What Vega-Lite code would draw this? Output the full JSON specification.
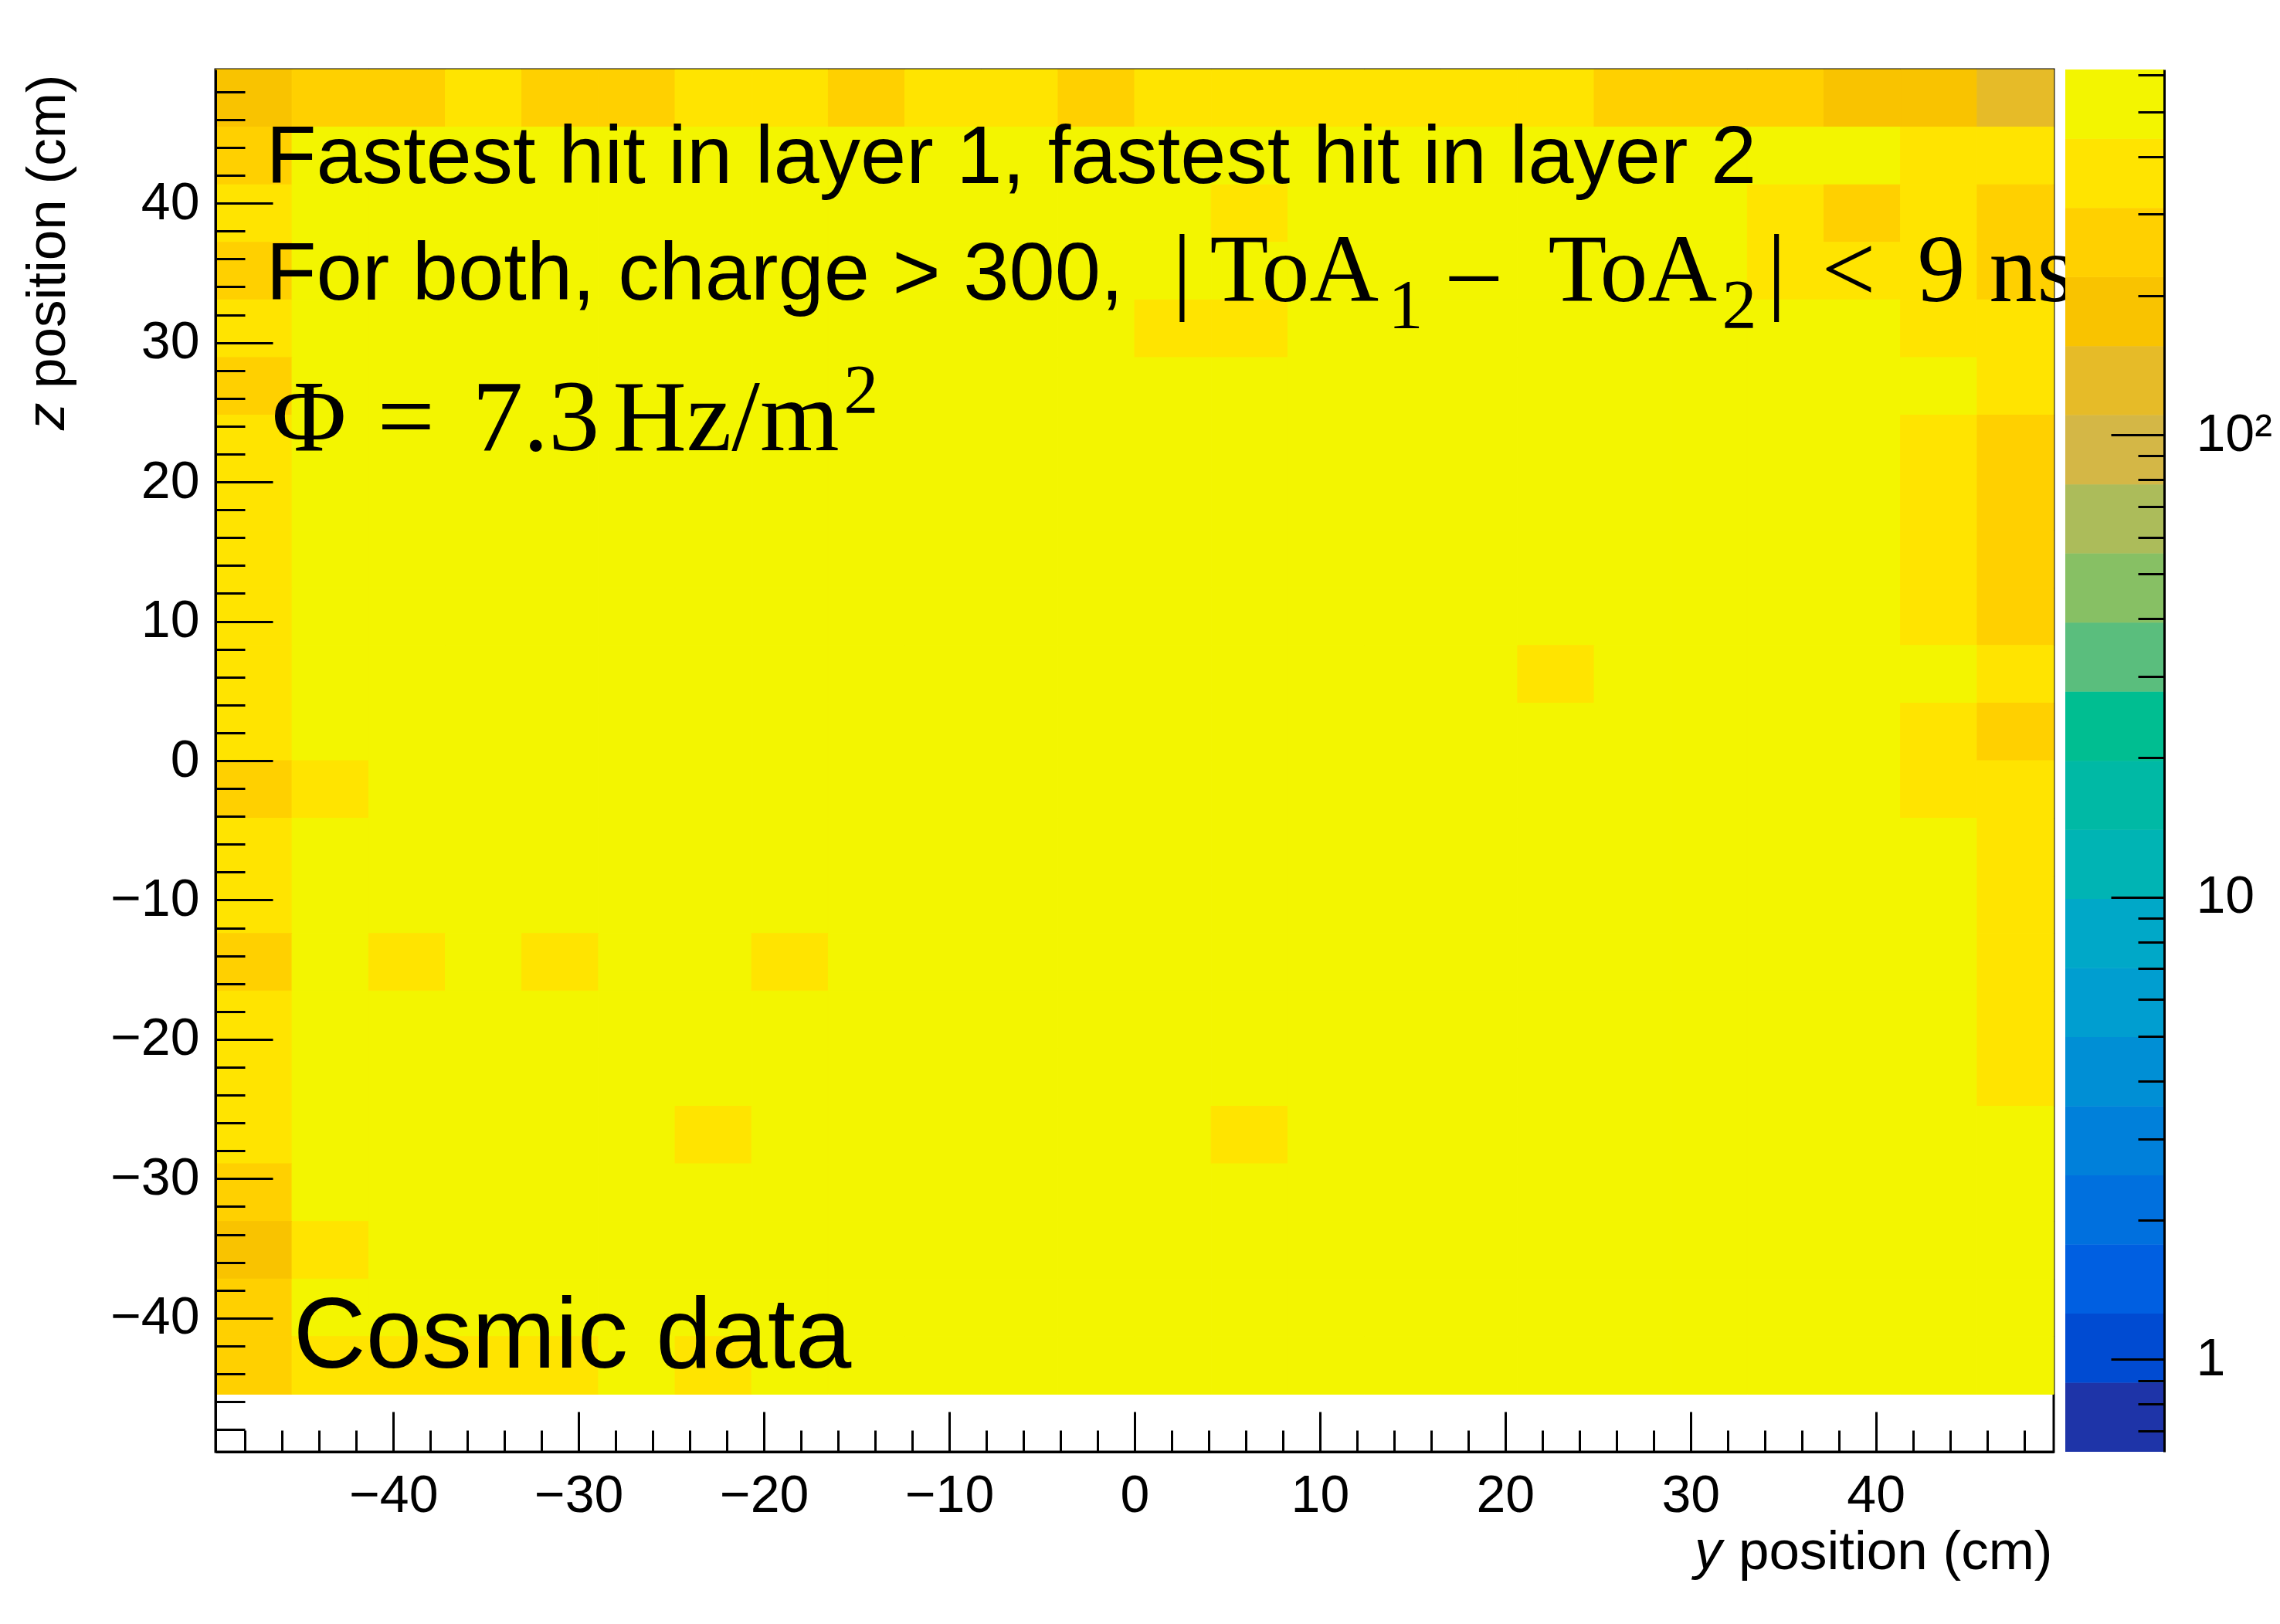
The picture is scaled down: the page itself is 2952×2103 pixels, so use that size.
{
"$schema":"https://vega.github.io/schema/vega-lite/v6.json",
"background":"white",
"padding":{"left":24,"top":88,"right":0,"bottom":0},
"bounds":"flush",
"spacing":15,
"datasets":{
"cells":[
{"y1":-49.6,"y2":-45.47,"z1":45.47,"z2":49.6,"n":185},{"y1":-45.47,"y2":-41.33,"z1":45.47,"z2":49.6,"n":260},{"y1":-41.33,"y2":-37.2,"z1":45.47,"z2":49.6,"n":260},{"y1":-37.2,"y2":-33.07,"z1":45.47,"z2":49.6,"n":370},{"y1":-33.07,"y2":-28.93,"z1":45.47,"z2":49.6,"n":260},{"y1":-28.93,"y2":-24.8,"z1":45.47,"z2":49.6,"n":260},{"y1":-24.8,"y2":-20.67,"z1":45.47,"z2":49.6,"n":370},{"y1":-20.67,"y2":-16.53,"z1":45.47,"z2":49.6,"n":370},{"y1":-16.53,"y2":-12.4,"z1":45.47,"z2":49.6,"n":260},{"y1":-12.4,"y2":-8.27,"z1":45.47,"z2":49.6,"n":370},{"y1":-8.27,"y2":-4.13,"z1":45.47,"z2":49.6,"n":370},{"y1":-4.13,"y2":0,"z1":45.47,"z2":49.6,"n":260},{"y1":0,"y2":4.13,"z1":45.47,"z2":49.6,"n":370},{"y1":4.13,"y2":8.27,"z1":45.47,"z2":49.6,"n":370},{"y1":8.27,"y2":12.4,"z1":45.47,"z2":49.6,"n":370},{"y1":12.4,"y2":16.53,"z1":45.47,"z2":49.6,"n":370},{"y1":16.53,"y2":20.67,"z1":45.47,"z2":49.6,"n":370},{"y1":20.67,"y2":24.8,"z1":45.47,"z2":49.6,"n":370},{"y1":24.8,"y2":28.93,"z1":45.47,"z2":49.6,"n":260},{"y1":28.93,"y2":33.07,"z1":45.47,"z2":49.6,"n":260},{"y1":33.07,"y2":37.2,"z1":45.47,"z2":49.6,"n":260},{"y1":37.2,"y2":41.33,"z1":45.47,"z2":49.6,"n":185},{"y1":41.33,"y2":45.47,"z1":45.47,"z2":49.6,"n":185},{"y1":45.47,"y2":49.6,"z1":45.47,"z2":49.6,"n":131},
{"y1":-49.6,"y2":-45.47,"z1":41.33,"z2":45.47,"n":260},{"y1":-45.47,"y2":-41.33,"z1":41.33,"z2":45.47,"n":520},{"y1":-41.33,"y2":-37.2,"z1":41.33,"z2":45.47,"n":520},{"y1":-37.2,"y2":-33.07,"z1":41.33,"z2":45.47,"n":520},{"y1":-33.07,"y2":-28.93,"z1":41.33,"z2":45.47,"n":520},{"y1":-28.93,"y2":-24.8,"z1":41.33,"z2":45.47,"n":520},{"y1":-24.8,"y2":-20.67,"z1":41.33,"z2":45.47,"n":520},{"y1":-20.67,"y2":-16.53,"z1":41.33,"z2":45.47,"n":520},{"y1":-16.53,"y2":-12.4,"z1":41.33,"z2":45.47,"n":520},{"y1":-12.4,"y2":-8.27,"z1":41.33,"z2":45.47,"n":520},{"y1":-8.27,"y2":-4.13,"z1":41.33,"z2":45.47,"n":520},{"y1":-4.13,"y2":0,"z1":41.33,"z2":45.47,"n":520},{"y1":0,"y2":4.13,"z1":41.33,"z2":45.47,"n":520},{"y1":4.13,"y2":8.27,"z1":41.33,"z2":45.47,"n":520},{"y1":8.27,"y2":12.4,"z1":41.33,"z2":45.47,"n":520},{"y1":12.4,"y2":16.53,"z1":41.33,"z2":45.47,"n":520},{"y1":16.53,"y2":20.67,"z1":41.33,"z2":45.47,"n":520},{"y1":20.67,"y2":24.8,"z1":41.33,"z2":45.47,"n":520},{"y1":24.8,"y2":28.93,"z1":41.33,"z2":45.47,"n":520},{"y1":28.93,"y2":33.07,"z1":41.33,"z2":45.47,"n":520},{"y1":33.07,"y2":37.2,"z1":41.33,"z2":45.47,"n":520},{"y1":37.2,"y2":41.33,"z1":41.33,"z2":45.47,"n":520},{"y1":41.33,"y2":45.47,"z1":41.33,"z2":45.47,"n":370},{"y1":45.47,"y2":49.6,"z1":41.33,"z2":45.47,"n":370},
{"y1":-49.6,"y2":-45.47,"z1":37.2,"z2":41.33,"n":370},{"y1":-45.47,"y2":-41.33,"z1":37.2,"z2":41.33,"n":520},{"y1":-41.33,"y2":-37.2,"z1":37.2,"z2":41.33,"n":520},{"y1":-37.2,"y2":-33.07,"z1":37.2,"z2":41.33,"n":520},{"y1":-33.07,"y2":-28.93,"z1":37.2,"z2":41.33,"n":520},{"y1":-28.93,"y2":-24.8,"z1":37.2,"z2":41.33,"n":520},{"y1":-24.8,"y2":-20.67,"z1":37.2,"z2":41.33,"n":520},{"y1":-20.67,"y2":-16.53,"z1":37.2,"z2":41.33,"n":520},{"y1":-16.53,"y2":-12.4,"z1":37.2,"z2":41.33,"n":520},{"y1":-12.4,"y2":-8.27,"z1":37.2,"z2":41.33,"n":520},{"y1":-8.27,"y2":-4.13,"z1":37.2,"z2":41.33,"n":520},{"y1":-4.13,"y2":0,"z1":37.2,"z2":41.33,"n":520},{"y1":0,"y2":4.13,"z1":37.2,"z2":41.33,"n":520},{"y1":4.13,"y2":8.27,"z1":37.2,"z2":41.33,"n":370},{"y1":8.27,"y2":12.4,"z1":37.2,"z2":41.33,"n":520},{"y1":12.4,"y2":16.53,"z1":37.2,"z2":41.33,"n":520},{"y1":16.53,"y2":20.67,"z1":37.2,"z2":41.33,"n":520},{"y1":20.67,"y2":24.8,"z1":37.2,"z2":41.33,"n":520},{"y1":24.8,"y2":28.93,"z1":37.2,"z2":41.33,"n":520},{"y1":28.93,"y2":33.07,"z1":37.2,"z2":41.33,"n":520},{"y1":33.07,"y2":37.2,"z1":37.2,"z2":41.33,"n":370},{"y1":37.2,"y2":41.33,"z1":37.2,"z2":41.33,"n":260},{"y1":41.33,"y2":45.47,"z1":37.2,"z2":41.33,"n":370},{"y1":45.47,"y2":49.6,"z1":37.2,"z2":41.33,"n":260},
{"y1":-49.6,"y2":-45.47,"z1":33.07,"z2":37.2,"n":260},{"y1":-45.47,"y2":-41.33,"z1":33.07,"z2":37.2,"n":520},{"y1":-41.33,"y2":-37.2,"z1":33.07,"z2":37.2,"n":520},{"y1":-37.2,"y2":-33.07,"z1":33.07,"z2":37.2,"n":520},{"y1":-33.07,"y2":-28.93,"z1":33.07,"z2":37.2,"n":520},{"y1":-28.93,"y2":-24.8,"z1":33.07,"z2":37.2,"n":520},{"y1":-24.8,"y2":-20.67,"z1":33.07,"z2":37.2,"n":520},{"y1":-20.67,"y2":-16.53,"z1":33.07,"z2":37.2,"n":520},{"y1":-16.53,"y2":-12.4,"z1":33.07,"z2":37.2,"n":520},{"y1":-12.4,"y2":-8.27,"z1":33.07,"z2":37.2,"n":520},{"y1":-8.27,"y2":-4.13,"z1":33.07,"z2":37.2,"n":520},{"y1":-4.13,"y2":0,"z1":33.07,"z2":37.2,"n":520},{"y1":0,"y2":4.13,"z1":33.07,"z2":37.2,"n":520},{"y1":4.13,"y2":8.27,"z1":33.07,"z2":37.2,"n":520},{"y1":8.27,"y2":12.4,"z1":33.07,"z2":37.2,"n":520},{"y1":12.4,"y2":16.53,"z1":33.07,"z2":37.2,"n":520},{"y1":16.53,"y2":20.67,"z1":33.07,"z2":37.2,"n":520},{"y1":20.67,"y2":24.8,"z1":33.07,"z2":37.2,"n":520},{"y1":24.8,"y2":28.93,"z1":33.07,"z2":37.2,"n":520},{"y1":28.93,"y2":33.07,"z1":33.07,"z2":37.2,"n":520},{"y1":33.07,"y2":37.2,"z1":33.07,"z2":37.2,"n":370},{"y1":37.2,"y2":41.33,"z1":33.07,"z2":37.2,"n":370},{"y1":41.33,"y2":45.47,"z1":33.07,"z2":37.2,"n":370},{"y1":45.47,"y2":49.6,"z1":33.07,"z2":37.2,"n":260},
{"y1":-49.6,"y2":-45.47,"z1":28.93,"z2":33.07,"n":370},{"y1":-45.47,"y2":-41.33,"z1":28.93,"z2":33.07,"n":520},{"y1":-41.33,"y2":-37.2,"z1":28.93,"z2":33.07,"n":520},{"y1":-37.2,"y2":-33.07,"z1":28.93,"z2":33.07,"n":520},{"y1":-33.07,"y2":-28.93,"z1":28.93,"z2":33.07,"n":520},{"y1":-28.93,"y2":-24.8,"z1":28.93,"z2":33.07,"n":520},{"y1":-24.8,"y2":-20.67,"z1":28.93,"z2":33.07,"n":520},{"y1":-20.67,"y2":-16.53,"z1":28.93,"z2":33.07,"n":520},{"y1":-16.53,"y2":-12.4,"z1":28.93,"z2":33.07,"n":520},{"y1":-12.4,"y2":-8.27,"z1":28.93,"z2":33.07,"n":520},{"y1":-8.27,"y2":-4.13,"z1":28.93,"z2":33.07,"n":520},{"y1":-4.13,"y2":0,"z1":28.93,"z2":33.07,"n":520},{"y1":0,"y2":4.13,"z1":28.93,"z2":33.07,"n":370},{"y1":4.13,"y2":8.27,"z1":28.93,"z2":33.07,"n":370},{"y1":8.27,"y2":12.4,"z1":28.93,"z2":33.07,"n":520},{"y1":12.4,"y2":16.53,"z1":28.93,"z2":33.07,"n":520},{"y1":16.53,"y2":20.67,"z1":28.93,"z2":33.07,"n":520},{"y1":20.67,"y2":24.8,"z1":28.93,"z2":33.07,"n":520},{"y1":24.8,"y2":28.93,"z1":28.93,"z2":33.07,"n":520},{"y1":28.93,"y2":33.07,"z1":28.93,"z2":33.07,"n":520},{"y1":33.07,"y2":37.2,"z1":28.93,"z2":33.07,"n":520},{"y1":37.2,"y2":41.33,"z1":28.93,"z2":33.07,"n":520},{"y1":41.33,"y2":45.47,"z1":28.93,"z2":33.07,"n":370},{"y1":45.47,"y2":49.6,"z1":28.93,"z2":33.07,"n":370},
{"y1":-49.6,"y2":-45.47,"z1":24.8,"z2":28.93,"n":260},{"y1":-45.47,"y2":-41.33,"z1":24.8,"z2":28.93,"n":520},{"y1":-41.33,"y2":-37.2,"z1":24.8,"z2":28.93,"n":520},{"y1":-37.2,"y2":-33.07,"z1":24.8,"z2":28.93,"n":520},{"y1":-33.07,"y2":-28.93,"z1":24.8,"z2":28.93,"n":520},{"y1":-28.93,"y2":-24.8,"z1":24.8,"z2":28.93,"n":520},{"y1":-24.8,"y2":-20.67,"z1":24.8,"z2":28.93,"n":520},{"y1":-20.67,"y2":-16.53,"z1":24.8,"z2":28.93,"n":520},{"y1":-16.53,"y2":-12.4,"z1":24.8,"z2":28.93,"n":520},{"y1":-12.4,"y2":-8.27,"z1":24.8,"z2":28.93,"n":520},{"y1":-8.27,"y2":-4.13,"z1":24.8,"z2":28.93,"n":520},{"y1":-4.13,"y2":0,"z1":24.8,"z2":28.93,"n":520},{"y1":0,"y2":4.13,"z1":24.8,"z2":28.93,"n":520},{"y1":4.13,"y2":8.27,"z1":24.8,"z2":28.93,"n":520},{"y1":8.27,"y2":12.4,"z1":24.8,"z2":28.93,"n":520},{"y1":12.4,"y2":16.53,"z1":24.8,"z2":28.93,"n":520},{"y1":16.53,"y2":20.67,"z1":24.8,"z2":28.93,"n":520},{"y1":20.67,"y2":24.8,"z1":24.8,"z2":28.93,"n":520},{"y1":24.8,"y2":28.93,"z1":24.8,"z2":28.93,"n":520},{"y1":28.93,"y2":33.07,"z1":24.8,"z2":28.93,"n":520},{"y1":33.07,"y2":37.2,"z1":24.8,"z2":28.93,"n":520},{"y1":37.2,"y2":41.33,"z1":24.8,"z2":28.93,"n":520},{"y1":41.33,"y2":45.47,"z1":24.8,"z2":28.93,"n":520},{"y1":45.47,"y2":49.6,"z1":24.8,"z2":28.93,"n":370},
{"y1":-49.6,"y2":-45.47,"z1":20.67,"z2":24.8,"n":370},{"y1":-45.47,"y2":-41.33,"z1":20.67,"z2":24.8,"n":520},{"y1":-41.33,"y2":-37.2,"z1":20.67,"z2":24.8,"n":520},{"y1":-37.2,"y2":-33.07,"z1":20.67,"z2":24.8,"n":520},{"y1":-33.07,"y2":-28.93,"z1":20.67,"z2":24.8,"n":520},{"y1":-28.93,"y2":-24.8,"z1":20.67,"z2":24.8,"n":520},{"y1":-24.8,"y2":-20.67,"z1":20.67,"z2":24.8,"n":520},{"y1":-20.67,"y2":-16.53,"z1":20.67,"z2":24.8,"n":520},{"y1":-16.53,"y2":-12.4,"z1":20.67,"z2":24.8,"n":520},{"y1":-12.4,"y2":-8.27,"z1":20.67,"z2":24.8,"n":520},{"y1":-8.27,"y2":-4.13,"z1":20.67,"z2":24.8,"n":520},{"y1":-4.13,"y2":0,"z1":20.67,"z2":24.8,"n":520},{"y1":0,"y2":4.13,"z1":20.67,"z2":24.8,"n":520},{"y1":4.13,"y2":8.27,"z1":20.67,"z2":24.8,"n":520},{"y1":8.27,"y2":12.4,"z1":20.67,"z2":24.8,"n":520},{"y1":12.4,"y2":16.53,"z1":20.67,"z2":24.8,"n":520},{"y1":16.53,"y2":20.67,"z1":20.67,"z2":24.8,"n":520},{"y1":20.67,"y2":24.8,"z1":20.67,"z2":24.8,"n":520},{"y1":24.8,"y2":28.93,"z1":20.67,"z2":24.8,"n":520},{"y1":28.93,"y2":33.07,"z1":20.67,"z2":24.8,"n":520},{"y1":33.07,"y2":37.2,"z1":20.67,"z2":24.8,"n":520},{"y1":37.2,"y2":41.33,"z1":20.67,"z2":24.8,"n":520},{"y1":41.33,"y2":45.47,"z1":20.67,"z2":24.8,"n":370},{"y1":45.47,"y2":49.6,"z1":20.67,"z2":24.8,"n":260},
{"y1":-49.6,"y2":-45.47,"z1":16.53,"z2":20.67,"n":370},{"y1":-45.47,"y2":-41.33,"z1":16.53,"z2":20.67,"n":520},{"y1":-41.33,"y2":-37.2,"z1":16.53,"z2":20.67,"n":520},{"y1":-37.2,"y2":-33.07,"z1":16.53,"z2":20.67,"n":520},{"y1":-33.07,"y2":-28.93,"z1":16.53,"z2":20.67,"n":520},{"y1":-28.93,"y2":-24.8,"z1":16.53,"z2":20.67,"n":520},{"y1":-24.8,"y2":-20.67,"z1":16.53,"z2":20.67,"n":520},{"y1":-20.67,"y2":-16.53,"z1":16.53,"z2":20.67,"n":520},{"y1":-16.53,"y2":-12.4,"z1":16.53,"z2":20.67,"n":520},{"y1":-12.4,"y2":-8.27,"z1":16.53,"z2":20.67,"n":520},{"y1":-8.27,"y2":-4.13,"z1":16.53,"z2":20.67,"n":520},{"y1":-4.13,"y2":0,"z1":16.53,"z2":20.67,"n":520},{"y1":0,"y2":4.13,"z1":16.53,"z2":20.67,"n":520},{"y1":4.13,"y2":8.27,"z1":16.53,"z2":20.67,"n":520},{"y1":8.27,"y2":12.4,"z1":16.53,"z2":20.67,"n":520},{"y1":12.4,"y2":16.53,"z1":16.53,"z2":20.67,"n":520},{"y1":16.53,"y2":20.67,"z1":16.53,"z2":20.67,"n":520},{"y1":20.67,"y2":24.8,"z1":16.53,"z2":20.67,"n":520},{"y1":24.8,"y2":28.93,"z1":16.53,"z2":20.67,"n":520},{"y1":28.93,"y2":33.07,"z1":16.53,"z2":20.67,"n":520},{"y1":33.07,"y2":37.2,"z1":16.53,"z2":20.67,"n":520},{"y1":37.2,"y2":41.33,"z1":16.53,"z2":20.67,"n":520},{"y1":41.33,"y2":45.47,"z1":16.53,"z2":20.67,"n":370},{"y1":45.47,"y2":49.6,"z1":16.53,"z2":20.67,"n":260},
{"y1":-49.6,"y2":-45.47,"z1":12.4,"z2":16.53,"n":370},{"y1":-45.47,"y2":-41.33,"z1":12.4,"z2":16.53,"n":520},{"y1":-41.33,"y2":-37.2,"z1":12.4,"z2":16.53,"n":520},{"y1":-37.2,"y2":-33.07,"z1":12.4,"z2":16.53,"n":520},{"y1":-33.07,"y2":-28.93,"z1":12.4,"z2":16.53,"n":520},{"y1":-28.93,"y2":-24.8,"z1":12.4,"z2":16.53,"n":520},{"y1":-24.8,"y2":-20.67,"z1":12.4,"z2":16.53,"n":520},{"y1":-20.67,"y2":-16.53,"z1":12.4,"z2":16.53,"n":520},{"y1":-16.53,"y2":-12.4,"z1":12.4,"z2":16.53,"n":520},{"y1":-12.4,"y2":-8.27,"z1":12.4,"z2":16.53,"n":520},{"y1":-8.27,"y2":-4.13,"z1":12.4,"z2":16.53,"n":520},{"y1":-4.13,"y2":0,"z1":12.4,"z2":16.53,"n":520},{"y1":0,"y2":4.13,"z1":12.4,"z2":16.53,"n":520},{"y1":4.13,"y2":8.27,"z1":12.4,"z2":16.53,"n":520},{"y1":8.27,"y2":12.4,"z1":12.4,"z2":16.53,"n":520},{"y1":12.4,"y2":16.53,"z1":12.4,"z2":16.53,"n":520},{"y1":16.53,"y2":20.67,"z1":12.4,"z2":16.53,"n":520},{"y1":20.67,"y2":24.8,"z1":12.4,"z2":16.53,"n":520},{"y1":24.8,"y2":28.93,"z1":12.4,"z2":16.53,"n":520},{"y1":28.93,"y2":33.07,"z1":12.4,"z2":16.53,"n":520},{"y1":33.07,"y2":37.2,"z1":12.4,"z2":16.53,"n":520},{"y1":37.2,"y2":41.33,"z1":12.4,"z2":16.53,"n":520},{"y1":41.33,"y2":45.47,"z1":12.4,"z2":16.53,"n":370},{"y1":45.47,"y2":49.6,"z1":12.4,"z2":16.53,"n":260},
{"y1":-49.6,"y2":-45.47,"z1":8.27,"z2":12.4,"n":370},{"y1":-45.47,"y2":-41.33,"z1":8.27,"z2":12.4,"n":520},{"y1":-41.33,"y2":-37.2,"z1":8.27,"z2":12.4,"n":520},{"y1":-37.2,"y2":-33.07,"z1":8.27,"z2":12.4,"n":520},{"y1":-33.07,"y2":-28.93,"z1":8.27,"z2":12.4,"n":520},{"y1":-28.93,"y2":-24.8,"z1":8.27,"z2":12.4,"n":520},{"y1":-24.8,"y2":-20.67,"z1":8.27,"z2":12.4,"n":520},{"y1":-20.67,"y2":-16.53,"z1":8.27,"z2":12.4,"n":520},{"y1":-16.53,"y2":-12.4,"z1":8.27,"z2":12.4,"n":520},{"y1":-12.4,"y2":-8.27,"z1":8.27,"z2":12.4,"n":520},{"y1":-8.27,"y2":-4.13,"z1":8.27,"z2":12.4,"n":520},{"y1":-4.13,"y2":0,"z1":8.27,"z2":12.4,"n":520},{"y1":0,"y2":4.13,"z1":8.27,"z2":12.4,"n":520},{"y1":4.13,"y2":8.27,"z1":8.27,"z2":12.4,"n":520},{"y1":8.27,"y2":12.4,"z1":8.27,"z2":12.4,"n":520},{"y1":12.4,"y2":16.53,"z1":8.27,"z2":12.4,"n":520},{"y1":16.53,"y2":20.67,"z1":8.27,"z2":12.4,"n":520},{"y1":20.67,"y2":24.8,"z1":8.27,"z2":12.4,"n":520},{"y1":24.8,"y2":28.93,"z1":8.27,"z2":12.4,"n":520},{"y1":28.93,"y2":33.07,"z1":8.27,"z2":12.4,"n":520},{"y1":33.07,"y2":37.2,"z1":8.27,"z2":12.4,"n":520},{"y1":37.2,"y2":41.33,"z1":8.27,"z2":12.4,"n":520},{"y1":41.33,"y2":45.47,"z1":8.27,"z2":12.4,"n":370},{"y1":45.47,"y2":49.6,"z1":8.27,"z2":12.4,"n":260},
{"y1":-49.6,"y2":-45.47,"z1":4.13,"z2":8.27,"n":370},{"y1":-45.47,"y2":-41.33,"z1":4.13,"z2":8.27,"n":520},{"y1":-41.33,"y2":-37.2,"z1":4.13,"z2":8.27,"n":520},{"y1":-37.2,"y2":-33.07,"z1":4.13,"z2":8.27,"n":520},{"y1":-33.07,"y2":-28.93,"z1":4.13,"z2":8.27,"n":520},{"y1":-28.93,"y2":-24.8,"z1":4.13,"z2":8.27,"n":520},{"y1":-24.8,"y2":-20.67,"z1":4.13,"z2":8.27,"n":520},{"y1":-20.67,"y2":-16.53,"z1":4.13,"z2":8.27,"n":520},{"y1":-16.53,"y2":-12.4,"z1":4.13,"z2":8.27,"n":520},{"y1":-12.4,"y2":-8.27,"z1":4.13,"z2":8.27,"n":520},{"y1":-8.27,"y2":-4.13,"z1":4.13,"z2":8.27,"n":520},{"y1":-4.13,"y2":0,"z1":4.13,"z2":8.27,"n":520},{"y1":0,"y2":4.13,"z1":4.13,"z2":8.27,"n":520},{"y1":4.13,"y2":8.27,"z1":4.13,"z2":8.27,"n":520},{"y1":8.27,"y2":12.4,"z1":4.13,"z2":8.27,"n":520},{"y1":12.4,"y2":16.53,"z1":4.13,"z2":8.27,"n":520},{"y1":16.53,"y2":20.67,"z1":4.13,"z2":8.27,"n":520},{"y1":20.67,"y2":24.8,"z1":4.13,"z2":8.27,"n":370},{"y1":24.8,"y2":28.93,"z1":4.13,"z2":8.27,"n":520},{"y1":28.93,"y2":33.07,"z1":4.13,"z2":8.27,"n":520},{"y1":33.07,"y2":37.2,"z1":4.13,"z2":8.27,"n":520},{"y1":37.2,"y2":41.33,"z1":4.13,"z2":8.27,"n":520},{"y1":41.33,"y2":45.47,"z1":4.13,"z2":8.27,"n":520},{"y1":45.47,"y2":49.6,"z1":4.13,"z2":8.27,"n":370},
{"y1":-49.6,"y2":-45.47,"z1":0,"z2":4.13,"n":370},{"y1":-45.47,"y2":-41.33,"z1":0,"z2":4.13,"n":520},{"y1":-41.33,"y2":-37.2,"z1":0,"z2":4.13,"n":520},{"y1":-37.2,"y2":-33.07,"z1":0,"z2":4.13,"n":520},{"y1":-33.07,"y2":-28.93,"z1":0,"z2":4.13,"n":520},{"y1":-28.93,"y2":-24.8,"z1":0,"z2":4.13,"n":520},{"y1":-24.8,"y2":-20.67,"z1":0,"z2":4.13,"n":520},{"y1":-20.67,"y2":-16.53,"z1":0,"z2":4.13,"n":520},{"y1":-16.53,"y2":-12.4,"z1":0,"z2":4.13,"n":520},{"y1":-12.4,"y2":-8.27,"z1":0,"z2":4.13,"n":520},{"y1":-8.27,"y2":-4.13,"z1":0,"z2":4.13,"n":520},{"y1":-4.13,"y2":0,"z1":0,"z2":4.13,"n":520},{"y1":0,"y2":4.13,"z1":0,"z2":4.13,"n":520},{"y1":4.13,"y2":8.27,"z1":0,"z2":4.13,"n":520},{"y1":8.27,"y2":12.4,"z1":0,"z2":4.13,"n":520},{"y1":12.4,"y2":16.53,"z1":0,"z2":4.13,"n":520},{"y1":16.53,"y2":20.67,"z1":0,"z2":4.13,"n":520},{"y1":20.67,"y2":24.8,"z1":0,"z2":4.13,"n":520},{"y1":24.8,"y2":28.93,"z1":0,"z2":4.13,"n":520},{"y1":28.93,"y2":33.07,"z1":0,"z2":4.13,"n":520},{"y1":33.07,"y2":37.2,"z1":0,"z2":4.13,"n":520},{"y1":37.2,"y2":41.33,"z1":0,"z2":4.13,"n":520},{"y1":41.33,"y2":45.47,"z1":0,"z2":4.13,"n":370},{"y1":45.47,"y2":49.6,"z1":0,"z2":4.13,"n":260},
{"y1":-49.6,"y2":-45.47,"z1":-4.13,"z2":0,"n":260},{"y1":-45.47,"y2":-41.33,"z1":-4.13,"z2":0,"n":370},{"y1":-41.33,"y2":-37.2,"z1":-4.13,"z2":0,"n":520},{"y1":-37.2,"y2":-33.07,"z1":-4.13,"z2":0,"n":520},{"y1":-33.07,"y2":-28.93,"z1":-4.13,"z2":0,"n":520},{"y1":-28.93,"y2":-24.8,"z1":-4.13,"z2":0,"n":520},{"y1":-24.8,"y2":-20.67,"z1":-4.13,"z2":0,"n":520},{"y1":-20.67,"y2":-16.53,"z1":-4.13,"z2":0,"n":520},{"y1":-16.53,"y2":-12.4,"z1":-4.13,"z2":0,"n":520},{"y1":-12.4,"y2":-8.27,"z1":-4.13,"z2":0,"n":520},{"y1":-8.27,"y2":-4.13,"z1":-4.13,"z2":0,"n":520},{"y1":-4.13,"y2":0,"z1":-4.13,"z2":0,"n":520},{"y1":0,"y2":4.13,"z1":-4.13,"z2":0,"n":520},{"y1":4.13,"y2":8.27,"z1":-4.13,"z2":0,"n":520},{"y1":8.27,"y2":12.4,"z1":-4.13,"z2":0,"n":520},{"y1":12.4,"y2":16.53,"z1":-4.13,"z2":0,"n":520},{"y1":16.53,"y2":20.67,"z1":-4.13,"z2":0,"n":520},{"y1":20.67,"y2":24.8,"z1":-4.13,"z2":0,"n":520},{"y1":24.8,"y2":28.93,"z1":-4.13,"z2":0,"n":520},{"y1":28.93,"y2":33.07,"z1":-4.13,"z2":0,"n":520},{"y1":33.07,"y2":37.2,"z1":-4.13,"z2":0,"n":520},{"y1":37.2,"y2":41.33,"z1":-4.13,"z2":0,"n":520},{"y1":41.33,"y2":45.47,"z1":-4.13,"z2":0,"n":370},{"y1":45.47,"y2":49.6,"z1":-4.13,"z2":0,"n":370},
{"y1":-49.6,"y2":-45.47,"z1":-8.27,"z2":-4.13,"n":370},{"y1":-45.47,"y2":-41.33,"z1":-8.27,"z2":-4.13,"n":520},{"y1":-41.33,"y2":-37.2,"z1":-8.27,"z2":-4.13,"n":520},{"y1":-37.2,"y2":-33.07,"z1":-8.27,"z2":-4.13,"n":520},{"y1":-33.07,"y2":-28.93,"z1":-8.27,"z2":-4.13,"n":520},{"y1":-28.93,"y2":-24.8,"z1":-8.27,"z2":-4.13,"n":520},{"y1":-24.8,"y2":-20.67,"z1":-8.27,"z2":-4.13,"n":520},{"y1":-20.67,"y2":-16.53,"z1":-8.27,"z2":-4.13,"n":520},{"y1":-16.53,"y2":-12.4,"z1":-8.27,"z2":-4.13,"n":520},{"y1":-12.4,"y2":-8.27,"z1":-8.27,"z2":-4.13,"n":520},{"y1":-8.27,"y2":-4.13,"z1":-8.27,"z2":-4.13,"n":520},{"y1":-4.13,"y2":0,"z1":-8.27,"z2":-4.13,"n":520},{"y1":0,"y2":4.13,"z1":-8.27,"z2":-4.13,"n":520},{"y1":4.13,"y2":8.27,"z1":-8.27,"z2":-4.13,"n":520},{"y1":8.27,"y2":12.4,"z1":-8.27,"z2":-4.13,"n":520},{"y1":12.4,"y2":16.53,"z1":-8.27,"z2":-4.13,"n":520},{"y1":16.53,"y2":20.67,"z1":-8.27,"z2":-4.13,"n":520},{"y1":20.67,"y2":24.8,"z1":-8.27,"z2":-4.13,"n":520},{"y1":24.8,"y2":28.93,"z1":-8.27,"z2":-4.13,"n":520},{"y1":28.93,"y2":33.07,"z1":-8.27,"z2":-4.13,"n":520},{"y1":33.07,"y2":37.2,"z1":-8.27,"z2":-4.13,"n":520},{"y1":37.2,"y2":41.33,"z1":-8.27,"z2":-4.13,"n":520},{"y1":41.33,"y2":45.47,"z1":-8.27,"z2":-4.13,"n":520},{"y1":45.47,"y2":49.6,"z1":-8.27,"z2":-4.13,"n":370},
{"y1":-49.6,"y2":-45.47,"z1":-12.4,"z2":-8.27,"n":370},{"y1":-45.47,"y2":-41.33,"z1":-12.4,"z2":-8.27,"n":520},{"y1":-41.33,"y2":-37.2,"z1":-12.4,"z2":-8.27,"n":520},{"y1":-37.2,"y2":-33.07,"z1":-12.4,"z2":-8.27,"n":520},{"y1":-33.07,"y2":-28.93,"z1":-12.4,"z2":-8.27,"n":520},{"y1":-28.93,"y2":-24.8,"z1":-12.4,"z2":-8.27,"n":520},{"y1":-24.8,"y2":-20.67,"z1":-12.4,"z2":-8.27,"n":520},{"y1":-20.67,"y2":-16.53,"z1":-12.4,"z2":-8.27,"n":520},{"y1":-16.53,"y2":-12.4,"z1":-12.4,"z2":-8.27,"n":520},{"y1":-12.4,"y2":-8.27,"z1":-12.4,"z2":-8.27,"n":520},{"y1":-8.27,"y2":-4.13,"z1":-12.4,"z2":-8.27,"n":520},{"y1":-4.13,"y2":0,"z1":-12.4,"z2":-8.27,"n":520},{"y1":0,"y2":4.13,"z1":-12.4,"z2":-8.27,"n":520},{"y1":4.13,"y2":8.27,"z1":-12.4,"z2":-8.27,"n":520},{"y1":8.27,"y2":12.4,"z1":-12.4,"z2":-8.27,"n":520},{"y1":12.4,"y2":16.53,"z1":-12.4,"z2":-8.27,"n":520},{"y1":16.53,"y2":20.67,"z1":-12.4,"z2":-8.27,"n":520},{"y1":20.67,"y2":24.8,"z1":-12.4,"z2":-8.27,"n":520},{"y1":24.8,"y2":28.93,"z1":-12.4,"z2":-8.27,"n":520},{"y1":28.93,"y2":33.07,"z1":-12.4,"z2":-8.27,"n":520},{"y1":33.07,"y2":37.2,"z1":-12.4,"z2":-8.27,"n":520},{"y1":37.2,"y2":41.33,"z1":-12.4,"z2":-8.27,"n":520},{"y1":41.33,"y2":45.47,"z1":-12.4,"z2":-8.27,"n":520},{"y1":45.47,"y2":49.6,"z1":-12.4,"z2":-8.27,"n":370},
{"y1":-49.6,"y2":-45.47,"z1":-16.53,"z2":-12.4,"n":260},{"y1":-45.47,"y2":-41.33,"z1":-16.53,"z2":-12.4,"n":520},{"y1":-41.33,"y2":-37.2,"z1":-16.53,"z2":-12.4,"n":370},{"y1":-37.2,"y2":-33.07,"z1":-16.53,"z2":-12.4,"n":520},{"y1":-33.07,"y2":-28.93,"z1":-16.53,"z2":-12.4,"n":370},{"y1":-28.93,"y2":-24.8,"z1":-16.53,"z2":-12.4,"n":520},{"y1":-24.8,"y2":-20.67,"z1":-16.53,"z2":-12.4,"n":520},{"y1":-20.67,"y2":-16.53,"z1":-16.53,"z2":-12.4,"n":370},{"y1":-16.53,"y2":-12.4,"z1":-16.53,"z2":-12.4,"n":520},{"y1":-12.4,"y2":-8.27,"z1":-16.53,"z2":-12.4,"n":520},{"y1":-8.27,"y2":-4.13,"z1":-16.53,"z2":-12.4,"n":520},{"y1":-4.13,"y2":0,"z1":-16.53,"z2":-12.4,"n":520},{"y1":0,"y2":4.13,"z1":-16.53,"z2":-12.4,"n":520},{"y1":4.13,"y2":8.27,"z1":-16.53,"z2":-12.4,"n":520},{"y1":8.27,"y2":12.4,"z1":-16.53,"z2":-12.4,"n":520},{"y1":12.4,"y2":16.53,"z1":-16.53,"z2":-12.4,"n":520},{"y1":16.53,"y2":20.67,"z1":-16.53,"z2":-12.4,"n":520},{"y1":20.67,"y2":24.8,"z1":-16.53,"z2":-12.4,"n":520},{"y1":24.8,"y2":28.93,"z1":-16.53,"z2":-12.4,"n":520},{"y1":28.93,"y2":33.07,"z1":-16.53,"z2":-12.4,"n":520},{"y1":33.07,"y2":37.2,"z1":-16.53,"z2":-12.4,"n":520},{"y1":37.2,"y2":41.33,"z1":-16.53,"z2":-12.4,"n":520},{"y1":41.33,"y2":45.47,"z1":-16.53,"z2":-12.4,"n":520},{"y1":45.47,"y2":49.6,"z1":-16.53,"z2":-12.4,"n":370},
{"y1":-49.6,"y2":-45.47,"z1":-20.67,"z2":-16.53,"n":370},{"y1":-45.47,"y2":-41.33,"z1":-20.67,"z2":-16.53,"n":520},{"y1":-41.33,"y2":-37.2,"z1":-20.67,"z2":-16.53,"n":520},{"y1":-37.2,"y2":-33.07,"z1":-20.67,"z2":-16.53,"n":520},{"y1":-33.07,"y2":-28.93,"z1":-20.67,"z2":-16.53,"n":520},{"y1":-28.93,"y2":-24.8,"z1":-20.67,"z2":-16.53,"n":520},{"y1":-24.8,"y2":-20.67,"z1":-20.67,"z2":-16.53,"n":520},{"y1":-20.67,"y2":-16.53,"z1":-20.67,"z2":-16.53,"n":520},{"y1":-16.53,"y2":-12.4,"z1":-20.67,"z2":-16.53,"n":520},{"y1":-12.4,"y2":-8.27,"z1":-20.67,"z2":-16.53,"n":520},{"y1":-8.27,"y2":-4.13,"z1":-20.67,"z2":-16.53,"n":520},{"y1":-4.13,"y2":0,"z1":-20.67,"z2":-16.53,"n":520},{"y1":0,"y2":4.13,"z1":-20.67,"z2":-16.53,"n":520},{"y1":4.13,"y2":8.27,"z1":-20.67,"z2":-16.53,"n":520},{"y1":8.27,"y2":12.4,"z1":-20.67,"z2":-16.53,"n":520},{"y1":12.4,"y2":16.53,"z1":-20.67,"z2":-16.53,"n":520},{"y1":16.53,"y2":20.67,"z1":-20.67,"z2":-16.53,"n":520},{"y1":20.67,"y2":24.8,"z1":-20.67,"z2":-16.53,"n":520},{"y1":24.8,"y2":28.93,"z1":-20.67,"z2":-16.53,"n":520},{"y1":28.93,"y2":33.07,"z1":-20.67,"z2":-16.53,"n":520},{"y1":33.07,"y2":37.2,"z1":-20.67,"z2":-16.53,"n":520},{"y1":37.2,"y2":41.33,"z1":-20.67,"z2":-16.53,"n":520},{"y1":41.33,"y2":45.47,"z1":-20.67,"z2":-16.53,"n":520},{"y1":45.47,"y2":49.6,"z1":-20.67,"z2":-16.53,"n":370},
{"y1":-49.6,"y2":-45.47,"z1":-24.8,"z2":-20.67,"n":370},{"y1":-45.47,"y2":-41.33,"z1":-24.8,"z2":-20.67,"n":520},{"y1":-41.33,"y2":-37.2,"z1":-24.8,"z2":-20.67,"n":520},{"y1":-37.2,"y2":-33.07,"z1":-24.8,"z2":-20.67,"n":520},{"y1":-33.07,"y2":-28.93,"z1":-24.8,"z2":-20.67,"n":520},{"y1":-28.93,"y2":-24.8,"z1":-24.8,"z2":-20.67,"n":520},{"y1":-24.8,"y2":-20.67,"z1":-24.8,"z2":-20.67,"n":520},{"y1":-20.67,"y2":-16.53,"z1":-24.8,"z2":-20.67,"n":520},{"y1":-16.53,"y2":-12.4,"z1":-24.8,"z2":-20.67,"n":520},{"y1":-12.4,"y2":-8.27,"z1":-24.8,"z2":-20.67,"n":520},{"y1":-8.27,"y2":-4.13,"z1":-24.8,"z2":-20.67,"n":520},{"y1":-4.13,"y2":0,"z1":-24.8,"z2":-20.67,"n":520},{"y1":0,"y2":4.13,"z1":-24.8,"z2":-20.67,"n":520},{"y1":4.13,"y2":8.27,"z1":-24.8,"z2":-20.67,"n":520},{"y1":8.27,"y2":12.4,"z1":-24.8,"z2":-20.67,"n":520},{"y1":12.4,"y2":16.53,"z1":-24.8,"z2":-20.67,"n":520},{"y1":16.53,"y2":20.67,"z1":-24.8,"z2":-20.67,"n":520},{"y1":20.67,"y2":24.8,"z1":-24.8,"z2":-20.67,"n":520},{"y1":24.8,"y2":28.93,"z1":-24.8,"z2":-20.67,"n":520},{"y1":28.93,"y2":33.07,"z1":-24.8,"z2":-20.67,"n":520},{"y1":33.07,"y2":37.2,"z1":-24.8,"z2":-20.67,"n":520},{"y1":37.2,"y2":41.33,"z1":-24.8,"z2":-20.67,"n":520},{"y1":41.33,"y2":45.47,"z1":-24.8,"z2":-20.67,"n":520},{"y1":45.47,"y2":49.6,"z1":-24.8,"z2":-20.67,"n":370},
{"y1":-49.6,"y2":-45.47,"z1":-28.93,"z2":-24.8,"n":370},{"y1":-45.47,"y2":-41.33,"z1":-28.93,"z2":-24.8,"n":520},{"y1":-41.33,"y2":-37.2,"z1":-28.93,"z2":-24.8,"n":520},{"y1":-37.2,"y2":-33.07,"z1":-28.93,"z2":-24.8,"n":520},{"y1":-33.07,"y2":-28.93,"z1":-28.93,"z2":-24.8,"n":520},{"y1":-28.93,"y2":-24.8,"z1":-28.93,"z2":-24.8,"n":520},{"y1":-24.8,"y2":-20.67,"z1":-28.93,"z2":-24.8,"n":370},{"y1":-20.67,"y2":-16.53,"z1":-28.93,"z2":-24.8,"n":520},{"y1":-16.53,"y2":-12.4,"z1":-28.93,"z2":-24.8,"n":520},{"y1":-12.4,"y2":-8.27,"z1":-28.93,"z2":-24.8,"n":520},{"y1":-8.27,"y2":-4.13,"z1":-28.93,"z2":-24.8,"n":520},{"y1":-4.13,"y2":0,"z1":-28.93,"z2":-24.8,"n":520},{"y1":0,"y2":4.13,"z1":-28.93,"z2":-24.8,"n":520},{"y1":4.13,"y2":8.27,"z1":-28.93,"z2":-24.8,"n":370},{"y1":8.27,"y2":12.4,"z1":-28.93,"z2":-24.8,"n":520},{"y1":12.4,"y2":16.53,"z1":-28.93,"z2":-24.8,"n":520},{"y1":16.53,"y2":20.67,"z1":-28.93,"z2":-24.8,"n":520},{"y1":20.67,"y2":24.8,"z1":-28.93,"z2":-24.8,"n":520},{"y1":24.8,"y2":28.93,"z1":-28.93,"z2":-24.8,"n":520},{"y1":28.93,"y2":33.07,"z1":-28.93,"z2":-24.8,"n":520},{"y1":33.07,"y2":37.2,"z1":-28.93,"z2":-24.8,"n":520},{"y1":37.2,"y2":41.33,"z1":-28.93,"z2":-24.8,"n":520},{"y1":41.33,"y2":45.47,"z1":-28.93,"z2":-24.8,"n":520},{"y1":45.47,"y2":49.6,"z1":-28.93,"z2":-24.8,"n":520},
{"y1":-49.6,"y2":-45.47,"z1":-33.07,"z2":-28.93,"n":260},{"y1":-45.47,"y2":-41.33,"z1":-33.07,"z2":-28.93,"n":520},{"y1":-41.33,"y2":-37.2,"z1":-33.07,"z2":-28.93,"n":520},{"y1":-37.2,"y2":-33.07,"z1":-33.07,"z2":-28.93,"n":520},{"y1":-33.07,"y2":-28.93,"z1":-33.07,"z2":-28.93,"n":520},{"y1":-28.93,"y2":-24.8,"z1":-33.07,"z2":-28.93,"n":520},{"y1":-24.8,"y2":-20.67,"z1":-33.07,"z2":-28.93,"n":520},{"y1":-20.67,"y2":-16.53,"z1":-33.07,"z2":-28.93,"n":520},{"y1":-16.53,"y2":-12.4,"z1":-33.07,"z2":-28.93,"n":520},{"y1":-12.4,"y2":-8.27,"z1":-33.07,"z2":-28.93,"n":520},{"y1":-8.27,"y2":-4.13,"z1":-33.07,"z2":-28.93,"n":520},{"y1":-4.13,"y2":0,"z1":-33.07,"z2":-28.93,"n":520},{"y1":0,"y2":4.13,"z1":-33.07,"z2":-28.93,"n":520},{"y1":4.13,"y2":8.27,"z1":-33.07,"z2":-28.93,"n":520},{"y1":8.27,"y2":12.4,"z1":-33.07,"z2":-28.93,"n":520},{"y1":12.4,"y2":16.53,"z1":-33.07,"z2":-28.93,"n":520},{"y1":16.53,"y2":20.67,"z1":-33.07,"z2":-28.93,"n":520},{"y1":20.67,"y2":24.8,"z1":-33.07,"z2":-28.93,"n":520},{"y1":24.8,"y2":28.93,"z1":-33.07,"z2":-28.93,"n":520},{"y1":28.93,"y2":33.07,"z1":-33.07,"z2":-28.93,"n":520},{"y1":33.07,"y2":37.2,"z1":-33.07,"z2":-28.93,"n":520},{"y1":37.2,"y2":41.33,"z1":-33.07,"z2":-28.93,"n":520},{"y1":41.33,"y2":45.47,"z1":-33.07,"z2":-28.93,"n":520},{"y1":45.47,"y2":49.6,"z1":-33.07,"z2":-28.93,"n":520},
{"y1":-49.6,"y2":-45.47,"z1":-37.2,"z2":-33.07,"n":185},{"y1":-45.47,"y2":-41.33,"z1":-37.2,"z2":-33.07,"n":370},{"y1":-41.33,"y2":-37.2,"z1":-37.2,"z2":-33.07,"n":520},{"y1":-37.2,"y2":-33.07,"z1":-37.2,"z2":-33.07,"n":520},{"y1":-33.07,"y2":-28.93,"z1":-37.2,"z2":-33.07,"n":520},{"y1":-28.93,"y2":-24.8,"z1":-37.2,"z2":-33.07,"n":520},{"y1":-24.8,"y2":-20.67,"z1":-37.2,"z2":-33.07,"n":520},{"y1":-20.67,"y2":-16.53,"z1":-37.2,"z2":-33.07,"n":520},{"y1":-16.53,"y2":-12.4,"z1":-37.2,"z2":-33.07,"n":520},{"y1":-12.4,"y2":-8.27,"z1":-37.2,"z2":-33.07,"n":520},{"y1":-8.27,"y2":-4.13,"z1":-37.2,"z2":-33.07,"n":520},{"y1":-4.13,"y2":0,"z1":-37.2,"z2":-33.07,"n":520},{"y1":0,"y2":4.13,"z1":-37.2,"z2":-33.07,"n":520},{"y1":4.13,"y2":8.27,"z1":-37.2,"z2":-33.07,"n":520},{"y1":8.27,"y2":12.4,"z1":-37.2,"z2":-33.07,"n":520},{"y1":12.4,"y2":16.53,"z1":-37.2,"z2":-33.07,"n":520},{"y1":16.53,"y2":20.67,"z1":-37.2,"z2":-33.07,"n":520},{"y1":20.67,"y2":24.8,"z1":-37.2,"z2":-33.07,"n":520},{"y1":24.8,"y2":28.93,"z1":-37.2,"z2":-33.07,"n":520},{"y1":28.93,"y2":33.07,"z1":-37.2,"z2":-33.07,"n":520},{"y1":33.07,"y2":37.2,"z1":-37.2,"z2":-33.07,"n":520},{"y1":37.2,"y2":41.33,"z1":-37.2,"z2":-33.07,"n":520},{"y1":41.33,"y2":45.47,"z1":-37.2,"z2":-33.07,"n":520},{"y1":45.47,"y2":49.6,"z1":-37.2,"z2":-33.07,"n":520},
{"y1":-49.6,"y2":-45.47,"z1":-41.33,"z2":-37.2,"n":260},{"y1":-45.47,"y2":-41.33,"z1":-41.33,"z2":-37.2,"n":520},{"y1":-41.33,"y2":-37.2,"z1":-41.33,"z2":-37.2,"n":520},{"y1":-37.2,"y2":-33.07,"z1":-41.33,"z2":-37.2,"n":520},{"y1":-33.07,"y2":-28.93,"z1":-41.33,"z2":-37.2,"n":520},{"y1":-28.93,"y2":-24.8,"z1":-41.33,"z2":-37.2,"n":520},{"y1":-24.8,"y2":-20.67,"z1":-41.33,"z2":-37.2,"n":520},{"y1":-20.67,"y2":-16.53,"z1":-41.33,"z2":-37.2,"n":520},{"y1":-16.53,"y2":-12.4,"z1":-41.33,"z2":-37.2,"n":520},{"y1":-12.4,"y2":-8.27,"z1":-41.33,"z2":-37.2,"n":520},{"y1":-8.27,"y2":-4.13,"z1":-41.33,"z2":-37.2,"n":520},{"y1":-4.13,"y2":0,"z1":-41.33,"z2":-37.2,"n":520},{"y1":0,"y2":4.13,"z1":-41.33,"z2":-37.2,"n":520},{"y1":4.13,"y2":8.27,"z1":-41.33,"z2":-37.2,"n":520},{"y1":8.27,"y2":12.4,"z1":-41.33,"z2":-37.2,"n":520},{"y1":12.4,"y2":16.53,"z1":-41.33,"z2":-37.2,"n":520},{"y1":16.53,"y2":20.67,"z1":-41.33,"z2":-37.2,"n":520},{"y1":20.67,"y2":24.8,"z1":-41.33,"z2":-37.2,"n":520},{"y1":24.8,"y2":28.93,"z1":-41.33,"z2":-37.2,"n":520},{"y1":28.93,"y2":33.07,"z1":-41.33,"z2":-37.2,"n":520},{"y1":33.07,"y2":37.2,"z1":-41.33,"z2":-37.2,"n":520},{"y1":37.2,"y2":41.33,"z1":-41.33,"z2":-37.2,"n":520},{"y1":41.33,"y2":45.47,"z1":-41.33,"z2":-37.2,"n":520},{"y1":45.47,"y2":49.6,"z1":-41.33,"z2":-37.2,"n":520},
{"y1":-49.6,"y2":-45.47,"z1":-45.47,"z2":-41.33,"n":260},{"y1":-45.47,"y2":-41.33,"z1":-45.47,"z2":-41.33,"n":370},{"y1":-41.33,"y2":-37.2,"z1":-45.47,"z2":-41.33,"n":370},{"y1":-37.2,"y2":-33.07,"z1":-45.47,"z2":-41.33,"n":370},{"y1":-33.07,"y2":-28.93,"z1":-45.47,"z2":-41.33,"n":370},{"y1":-28.93,"y2":-24.8,"z1":-45.47,"z2":-41.33,"n":520},{"y1":-24.8,"y2":-20.67,"z1":-45.47,"z2":-41.33,"n":370},{"y1":-20.67,"y2":-16.53,"z1":-45.47,"z2":-41.33,"n":520},{"y1":-16.53,"y2":-12.4,"z1":-45.47,"z2":-41.33,"n":520},{"y1":-12.4,"y2":-8.27,"z1":-45.47,"z2":-41.33,"n":520},{"y1":-8.27,"y2":-4.13,"z1":-45.47,"z2":-41.33,"n":520},{"y1":-4.13,"y2":0,"z1":-45.47,"z2":-41.33,"n":520},{"y1":0,"y2":4.13,"z1":-45.47,"z2":-41.33,"n":520},{"y1":4.13,"y2":8.27,"z1":-45.47,"z2":-41.33,"n":520},{"y1":8.27,"y2":12.4,"z1":-45.47,"z2":-41.33,"n":520},{"y1":12.4,"y2":16.53,"z1":-45.47,"z2":-41.33,"n":520},{"y1":16.53,"y2":20.67,"z1":-45.47,"z2":-41.33,"n":520},{"y1":20.67,"y2":24.8,"z1":-45.47,"z2":-41.33,"n":520},{"y1":24.8,"y2":28.93,"z1":-45.47,"z2":-41.33,"n":520},{"y1":28.93,"y2":33.07,"z1":-45.47,"z2":-41.33,"n":520},{"y1":33.07,"y2":37.2,"z1":-45.47,"z2":-41.33,"n":520},{"y1":37.2,"y2":41.33,"z1":-45.47,"z2":-41.33,"n":520},{"y1":41.33,"y2":45.47,"z1":-45.47,"z2":-41.33,"n":520},{"y1":45.47,"y2":49.6,"z1":-45.47,"z2":-41.33,"n":520}
],
"sans":[
{"tx":-46.87,"tz":41.45,"label":"Fastest hit in layer 1, fastest hit in layer 2"},
{"tx":-46.87,"tz":33.1,"label":"For both, charge > 300,"}
],
"serif":[
{"tx":-46.56,"tz":22.26,"label":"Φ"},
{"tx":-40.87,"tz":22.26,"label":"="},
{"tx":-35.75,"tz":22.26,"label":"7.3"},
{"tx":-28.16,"tz":22.26,"label":"Hz/m"}
],
"math":[
{"tx":2.04,"tz":33.0,"label":"|"},
{"tx":4.06,"tz":33.0,"label":"ToA"},
{"tx":17.02,"tz":33.0,"label":"–"},
{"tx":22.32,"tz":33.0,"label":"ToA"},
{"tx":34.13,"tz":33.0,"label":"|"},
{"tx":37.07,"tz":33.0,"label":"<"},
{"tx":42.24,"tz":33.0,"label":"9 ns"}
],
"scripts":[
{"tx":13.69,"tz":31.04,"label":"1"},
{"tx":31.7,"tz":31.04,"label":"2"},
{"tx":-15.7,"tz":24.96,"label":"2"}
],
"big":[
{"tx":-45.4,"tz":-43.56,"label":"Cosmic data"}
],
"italicz":[
{"tx":-57.75,"tz":23.72,"label":"z"}
],
"italicy":[
{"tx":31.7,"tz":-57.97,"label":"y"}
],
"bands":[
{"lo":0.631,"hi":0.89,"mid":0.75},{"lo":0.89,"hi":1.256,"mid":1.057},{"lo":1.256,"hi":1.772,"mid":1.492},{"lo":1.772,"hi":2.5,"mid":2.105},{"lo":2.5,"hi":3.527,"mid":2.971},{"lo":3.527,"hi":4.977,"mid":4.192},{"lo":4.977,"hi":7.022,"mid":5.913},{"lo":7.022,"hi":9.908,"mid":8.343},{"lo":9.908,"hi":13.98,"mid":11.77},{"lo":13.98,"hi":19.72,"mid":16.61},{"lo":19.72,"hi":27.83,"mid":23.43},{"lo":27.83,"hi":39.26,"mid":33.06},{"lo":39.26,"hi":55.4,"mid":46.65},{"lo":55.4,"hi":78.16,"mid":65.81},{"lo":78.16,"hi":110.3,"mid":92.86},{"lo":110.3,"hi":155.6,"mid":131},{"lo":155.6,"hi":219.5,"mid":184.8},{"lo":219.5,"hi":309.7,"mid":260.8},{"lo":309.7,"hi":437,"mid":367.9},{"lo":437,"hi":617,"mid":519.1}
]
},
"hconcat":[
{
"width":2380,"height":1790,
"layer":[
{"data":{"name":"cells"},"mark":{"type":"rect","strokeWidth":1},
"encoding":{
"x":{"field":"y1","type":"quantitative","scale":{"domain":[-49.6,49.6],"nice":false,"zero":false},
"axis":{"orient":"bottom","zindex":1,"values":[-40,-30,-20,-10,0,10,20,30,40],"format":"d","tickSize":-52,"labelPadding":75,"labelFlush":false,"labelOverlap":false,"title":"position (cm)","titleAnchor":"end","titleAlign":"right","titleBaseline":"alphabetic","titleX":2378,"titleY":151}},
"x2":{"field":"y2"},
"y":{"field":"z1","type":"quantitative","scale":{"domain":[-49.6,49.6],"nice":false,"zero":false},
"axis":{"orient":"left","zindex":1,"values":[-40,-30,-20,-10,0,10,20,30,40],"format":"d","tickSize":-74,"labelPadding":95,"labelFlush":false,"labelOverlap":false,"title":"position (cm)","titleAngle":-90,"titleAnchor":"end","titleAlign":"right","titleBaseline":"alphabetic","titleX":-196,"titleY":6}},
"y2":{"field":"z2"},
"color":{"field":"n","type":"quantitative","scale":{"type":"threshold","domain":[0.89,1.256,1.772,2.5,3.527,4.977,7.022,9.908,13.98,19.72,27.83,39.26,55.4,78.16,110.3,155.6,219.5,309.7,437],"range":["#1e34a8","#004bd2","#005fe1","#0070de","#0080da","#008fd5","#009ed0","#00a8c8","#00b4b4","#00b9a5","#00be91","#5abe7d","#87c064","#acbc5a","#d4b746","#e6bb28","#f9c300","#ffd000","#ffe400","#f3f500"]},"legend":null},
"stroke":{"field":"n","type":"quantitative","scale":{"type":"threshold","domain":[0.89,1.256,1.772,2.5,3.527,4.977,7.022,9.908,13.98,19.72,27.83,39.26,55.4,78.16,110.3,155.6,219.5,309.7,437],"range":["#1e34a8","#004bd2","#005fe1","#0070de","#0080da","#008fd5","#009ed0","#00a8c8","#00b4b4","#00b9a5","#00be91","#5abe7d","#87c064","#acbc5a","#d4b746","#e6bb28","#f9c300","#ffd000","#ffe400","#f3f500"]},"legend":null}
}},
{"data":{"name":"sans"},"mark":{"type":"text","font":"Liberation Sans","fontSize":106.5,"align":"left","baseline":"alphabetic","color":"#000"},
"encoding":{
"x":{"field":"tx","type":"quantitative","scale":{"domain":[-49.6,49.6],"nice":false,"zero":false},
"axis":{"orient":"bottom","zindex":1,"values":[-48,-46,-44,-42,-38,-36,-34,-32,-28,-26,-24,-22,-18,-16,-14,-12,-8,-6,-4,-2,2,4,6,8,12,14,16,18,22,24,26,28,32,34,36,38,42,44,46,48],"tickSize":-28,"labels":false,"domain":false,"title":null}},
"y":{"field":"tz","type":"quantitative","scale":{"domain":[-49.6,49.6],"nice":false,"zero":false},
"axis":{"orient":"left","zindex":1,"values":[-48,-46,-44,-42,-38,-36,-34,-32,-28,-26,-24,-22,-18,-16,-14,-12,-8,-6,-4,-2,2,4,6,8,12,14,16,18,22,24,26,28,32,34,36,38,42,44,46,48],"tickSize":-38,"labels":false,"domain":false,"title":null}},
"text":{"field":"label"}
}},
{"data":{"name":"serif"},"mark":{"type":"text","font":"Liberation Serif","fontSize":132,"align":"left","baseline":"alphabetic","color":"#000"},
"encoding":{
"x":{"field":"tx","type":"quantitative","scale":{"domain":[-49.6,49.6],"nice":false,"zero":false},"axis":null},
"y":{"field":"tz","type":"quantitative","scale":{"domain":[-49.6,49.6],"nice":false,"zero":false},"axis":null},
"text":{"field":"label"}
}},
{"data":{"name":"math"},"mark":{"type":"text","font":"Liberation Serif","fontSize":124,"align":"left","baseline":"alphabetic","color":"#000"},
"encoding":{
"x":{"field":"tx","type":"quantitative","scale":{"domain":[-49.6,49.6],"nice":false,"zero":false},"axis":null},
"y":{"field":"tz","type":"quantitative","scale":{"domain":[-49.6,49.6],"nice":false,"zero":false},"axis":null},
"text":{"field":"label"}
}},
{"data":{"name":"scripts"},"mark":{"type":"text","font":"Liberation Serif","fontSize":90,"align":"left","baseline":"alphabetic","color":"#000"},
"encoding":{
"x":{"field":"tx","type":"quantitative","scale":{"domain":[-49.6,49.6],"nice":false,"zero":false},"axis":null},
"y":{"field":"tz","type":"quantitative","scale":{"domain":[-49.6,49.6],"nice":false,"zero":false},"axis":null},
"text":{"field":"label"}
}},
{"data":{"name":"big"},"mark":{"type":"text","font":"Liberation Sans","fontSize":130,"align":"left","baseline":"alphabetic","color":"#000"},
"encoding":{
"x":{"field":"tx","type":"quantitative","scale":{"domain":[-49.6,49.6],"nice":false,"zero":false},"axis":null},
"y":{"field":"tz","type":"quantitative","scale":{"domain":[-49.6,49.6],"nice":false,"zero":false},"axis":null},
"text":{"field":"label"}
}},
{"data":{"name":"italicz"},"mark":{"type":"text","font":"Liberation Sans","fontStyle":"italic","fontSize":71,"angle":270,"align":"left","baseline":"alphabetic","color":"#000"},
"encoding":{
"x":{"field":"tx","type":"quantitative","scale":{"domain":[-49.6,49.6],"nice":false,"zero":false},"axis":null},
"y":{"field":"tz","type":"quantitative","scale":{"domain":[-49.6,49.6],"nice":false,"zero":false},"axis":null},
"text":{"field":"label"}
}},
{"data":{"name":"italicy"},"mark":{"type":"text","font":"Liberation Sans","fontStyle":"italic","fontSize":71,"align":"right","baseline":"alphabetic","color":"#000"},
"encoding":{
"x":{"field":"tx","type":"quantitative","scale":{"domain":[-49.6,49.6],"nice":false,"zero":false},"axis":null},
"y":{"field":"tz","type":"quantitative","scale":{"domain":[-49.6,49.6],"nice":false,"zero":false},"axis":null},
"text":{"field":"label"}
}}
],
"resolve":{"axis":{"x":"independent","y":"independent"}}
},
{
"width":128,"height":1790,
"view":{"stroke":null},
"data":{"name":"bands"},
"layer":[
{"mark":{"type":"rect","strokeWidth":1},
"encoding":{
"x":{"datum":0,"type":"quantitative","scale":{"domain":[0,1],"nice":false,"zero":false},"axis":null},
"x2":{"datum":1},
"y":{"field":"lo","type":"quantitative","scale":{"type":"log","domain":[0.631,617],"nice":false},
"axis":{"orient":"right","zindex":1,"values":[1,10,100],"tickSize":-69,"labelPadding":110,"labelAlign":"left","labelBaseline":"middle","labelFlush":false,"labelOverlap":false,"labelExpr":"datum.value >= 100 ? '10²' : (datum.value >= 10 ? '10' : '1')","title":null}},
"y2":{"field":"hi"},
"color":{"field":"mid","type":"quantitative","scale":{"type":"threshold","domain":[0.89,1.256,1.772,2.5,3.527,4.977,7.022,9.908,13.98,19.72,27.83,39.26,55.4,78.16,110.3,155.6,219.5,309.7,437],"range":["#1e34a8","#004bd2","#005fe1","#0070de","#0080da","#008fd5","#009ed0","#00a8c8","#00b4b4","#00b9a5","#00be91","#5abe7d","#87c064","#acbc5a","#d4b746","#e6bb28","#f9c300","#ffd000","#ffe400","#f3f500"]},"legend":null}
}},
{"mark":{"type":"rect"},
"encoding":{
"x":{"datum":0,"type":"quantitative","scale":{"domain":[0,1],"nice":false,"zero":false},"axis":null},
"x2":{"datum":1},
"y":{"field":"lo","type":"quantitative","scale":{"type":"log","domain":[0.631,617],"nice":false},
"axis":{"orient":"right","zindex":1,"values":[0.7,0.8,0.9,2,3,4,5,6,7,8,9,20,30,40,50,60,70,80,90,200,300,400,500,600],"tickSize":-34,"labels":false,"domain":false,"title":null}},
"y2":{"field":"hi"},
"color":{"field":"mid","type":"quantitative","scale":{"type":"threshold","domain":[0.89,1.256,1.772,2.5,3.527,4.977,7.022,9.908,13.98,19.72,27.83,39.26,55.4,78.16,110.3,155.6,219.5,309.7,437],"range":["#1e34a8","#004bd2","#005fe1","#0070de","#0080da","#008fd5","#009ed0","#00a8c8","#00b4b4","#00b9a5","#00be91","#5abe7d","#87c064","#acbc5a","#d4b746","#e6bb28","#f9c300","#ffd000","#ffe400","#f3f500"]},"legend":null}
}}
],
"resolve":{"axis":{"y":"independent"}}
}
],
"resolve":{"scale":{"color":"independent","stroke":"independent"}},
"config":{
"view":{"stroke":"#000","strokeWidth":3},
"axis":{"domainColor":"#000","domainWidth":3,"tickColor":"#000","tickWidth":3,"labelFont":"Liberation Sans","labelFontSize":68,"labelColor":"#000","titleFont":"Liberation Sans","titleFontSize":71,"titleFontWeight":"normal","titleColor":"#000","grid":false}
}
}
